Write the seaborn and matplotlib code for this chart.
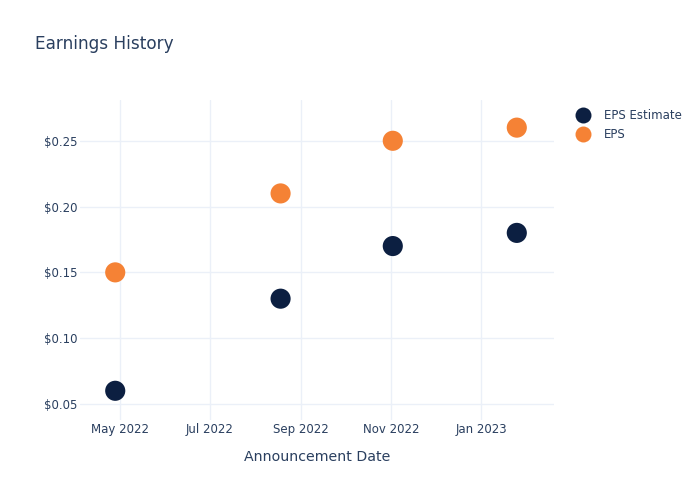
import matplotlib
matplotlib.use("Agg")
import matplotlib.pyplot as plt
import matplotlib.dates as mdates
from matplotlib.ticker import FuncFormatter
from matplotlib.lines import Line2D
import seaborn as sns
import pandas as pd

dates = ["2022-04-28", "2022-08-18", "2022-11-02", "2023-01-25"]
eps_estimate = [0.06, 0.13, 0.17, 0.18]
eps_actual = [0.15, 0.21, 0.25, 0.26]
series_names = ["EPS Estimate", "EPS"]
colors = ["#0c1f41", "#f58235"]

df = pd.DataFrame({
    "date": pd.to_datetime(dates * 2),
    "value": eps_estimate + eps_actual,
    "series": [series_names[0]] * len(dates) + [series_names[1]] * len(dates),
})

sns.set_theme(style="white")
plt.rcParams['font.family'] = ['DejaVu Sans']
text_color = "#2a3f5f"
grid_color = "#ebf0f8"

fig = plt.figure(figsize=(7, 5), dpi=100)
ax = fig.add_axes([0.114, 0.16, 0.677, 0.64])

sns.scatterplot(data=df, x="date", y="value", hue="series",
                palette=dict(zip(series_names, colors)), s=210,
                edgecolor="none", linewidth=0, ax=ax, legend=False, zorder=3)

ax.set_xlim(pd.Timestamp("2022-04-04"), pd.Timestamp("2023-02-19"))
ax.set_ylim(0.0378, 0.281)
ax.set_yticks([0.05, 0.10, 0.15, 0.20, 0.25])
ax.yaxis.set_major_formatter(FuncFormatter(lambda v, p: f"${v:.2f}"))
ax.set_xticks(pd.to_datetime(["2022-05-01", "2022-07-01", "2022-09-01", "2022-11-01", "2023-01-01"]))
ax.xaxis.set_major_formatter(mdates.DateFormatter("%b %Y"))

ax.grid(True, color=grid_color, linewidth=1, zorder=0)
ax.set_axisbelow(True)
for s in ax.spines.values():
    s.set_visible(False)
ax.tick_params(axis="both", length=0, colors=text_color, labelsize=8.5)
ax.tick_params(axis="y", pad=1.5)
ax.tick_params(axis="x", pad=2.5)
for lbl in ax.get_xticklabels() + ax.get_yticklabels():
    lbl.set_color(text_color)

ax.set_xlabel("Announcement Date", color=text_color, fontsize=10.2, labelpad=9.5)
ax.set_ylabel("")

fig.text(35 / 700, 1 - 44 / 500, "Earnings History", color=text_color,
         fontsize=12.2, va="center", ha="left")

handles = [Line2D([0], [0], marker="o", linestyle="none", markersize=11.5,
                  markerfacecolor=c, markeredgecolor="none") for c in colors]
leg = fig.legend(handles, series_names, loc="upper left",
                 bbox_to_anchor=(569 / 700, 1 - 104 / 500), frameon=False,
                 fontsize=8.5, labelcolor=text_color, handletextpad=1.05,
                 labelspacing=0.55, borderaxespad=0, handlelength=1.5)

fig.savefig("out.png", dpi=100)
